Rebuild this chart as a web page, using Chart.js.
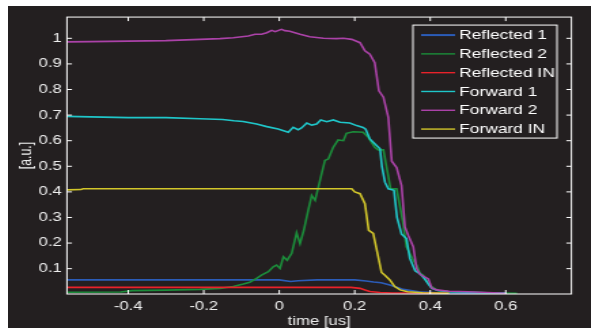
<!DOCTYPE html>
<html>
<head>
<meta charset="utf-8">
<script src="https://cdn.jsdelivr.net/npm/chart.js@4.4.0/dist/chart.umd.min.js"></script>
<style>
  html, body { margin: 0; padding: 0; background: #fff; }
  body { width: 591px; height: 328px; overflow: hidden; position: relative; }
  #plot { position: absolute; left: 8px; top: 6px; background: #231f20; }
</style>
</head>
<body>
<!-- the scope picture is stretched sideways, so the canvas is too (inline size so Chart.js keeps it) -->
<canvas id="plot" width="429" height="322" style="width:583px;height:322px"></canvas>
<script>
// [time (us), amplitude (a.u.)]
const reflected1 = [[-0.562, 0.056], [-0.2, 0.056], [0.0, 0.056], [0.03, 0.05], [0.05, 0.053], [0.1, 0.056],
  [0.2, 0.056], [0.23, 0.052], [0.25, 0.048], [0.27, 0.045], [0.293, 0.036], [0.31, 0.028], [0.328, 0.019],
  [0.37, 0.01], [0.42, 0.006], [0.5, 0.004], [0.6, 0.003]];

const reflected2 = [[-0.562, 0.008], [-0.42, 0.009], [-0.39, 0.014], [-0.3, 0.016], [-0.21, 0.019], [-0.157, 0.023],
  [-0.122, 0.03], [-0.095, 0.04], [-0.078, 0.047], [-0.06, 0.062], [-0.047, 0.075], [-0.029, 0.088],
  [-0.016, 0.107], [-0.007, 0.114], [0.002, 0.101], [0.011, 0.146], [0.021, 0.133], [0.033, 0.16],
  [0.046, 0.24], [0.055, 0.198], [0.065, 0.25], [0.077, 0.33], [0.086, 0.386], [0.095, 0.367],
  [0.108, 0.445], [0.121, 0.523], [0.13, 0.529], [0.143, 0.574], [0.156, 0.603], [0.17, 0.6],
  [0.178, 0.629], [0.196, 0.635], [0.222, 0.633], [0.236, 0.613], [0.253, 0.574], [0.262, 0.564],
  [0.276, 0.564], [0.286, 0.484], [0.295, 0.412], [0.311, 0.412], [0.328, 0.28], [0.337, 0.185],
  [0.355, 0.133], [0.364, 0.114], [0.373, 0.082], [0.381, 0.075], [0.4, 0.033], [0.42, 0.015],
  [0.45, 0.01], [0.5, 0.008], [0.55, 0.006], [0.63, 0.004]];

const reflectedIn = [[-0.562, 0.027], [0.19, 0.027], [0.214, 0.023], [0.227, 0.017], [0.24, 0.011],
  [0.267, 0.007], [0.3, 0.005], [0.35, 0.005], [0.45, 0.004]];

const forward1 = [[-0.562, 0.695], [-0.5, 0.693], [-0.4, 0.69], [-0.3, 0.69], [-0.21, 0.686], [-0.15, 0.683],
  [-0.12, 0.678], [-0.096, 0.675], [-0.06, 0.665], [-0.033, 0.655], [-0.003, 0.646], [0.024, 0.633],
  [0.037, 0.652], [0.05, 0.643], [0.059, 0.65], [0.073, 0.669], [0.086, 0.661], [0.099, 0.665],
  [0.11, 0.681], [0.126, 0.674], [0.143, 0.681], [0.161, 0.672], [0.187, 0.669], [0.205, 0.659],
  [0.222, 0.652], [0.229, 0.645], [0.24, 0.607], [0.253, 0.588], [0.267, 0.568], [0.272, 0.5],
  [0.28, 0.438], [0.289, 0.412], [0.304, 0.406], [0.312, 0.3], [0.324, 0.235], [0.337, 0.218],
  [0.346, 0.14], [0.36, 0.092], [0.373, 0.08], [0.385, 0.06], [0.395, 0.04], [0.404, 0.023],
  [0.42, 0.015], [0.45, 0.01], [0.5, 0.008], [0.55, 0.006], [0.6, 0.005]];

const forward2 = [[-0.562, 0.986], [-0.5, 0.987], [-0.4, 0.989], [-0.3, 0.991], [-0.21, 0.996], [-0.157, 0.999],
  [-0.122, 1.002], [-0.082, 1.009], [-0.064, 1.016], [-0.047, 1.016], [-0.033, 1.022], [-0.02, 1.031],
  [-0.011, 1.026], [0.006, 1.035], [0.015, 1.03], [0.028, 1.028], [0.055, 1.016], [0.081, 1.006],
  [0.117, 1.0], [0.152, 0.999], [0.17, 1.0], [0.192, 0.996], [0.214, 0.983], [0.227, 0.951],
  [0.24, 0.938], [0.253, 0.905], [0.264, 0.795], [0.276, 0.77], [0.289, 0.69], [0.298, 0.52],
  [0.311, 0.495], [0.324, 0.425], [0.333, 0.263], [0.342, 0.23], [0.355, 0.186], [0.364, 0.1],
  [0.373, 0.078], [0.395, 0.06], [0.404, 0.025], [0.417, 0.017], [0.45, 0.012], [0.5, 0.01],
  [0.55, 0.007], [0.6, 0.004]];

const forwardIn = [[-0.562, 0.408], [-0.525, 0.409], [-0.52, 0.412], [0.192, 0.412], [0.2, 0.4],
  [0.214, 0.393], [0.227, 0.354], [0.237, 0.25], [0.249, 0.238], [0.258, 0.175], [0.271, 0.085],
  [0.28, 0.074], [0.293, 0.056], [0.306, 0.03], [0.32, 0.017], [0.34, 0.01], [0.38, 0.006], [0.45, 0.004]];

const series = [reflected1, reflected2, reflectedIn, forward1, forward2, forwardIn];
const labels = ['Reflected 1', 'Reflected 2', 'Reflected IN', 'Forward 1', 'Forward 2', 'Forward IN'];
const colors = ['#2b5cb8', '#1b8d3a', '#e8222a', '#1fc6c9', '#ab42a8', '#d2c62a'];

const xTicks = [-0.4, -0.2, 0, 0.2, 0.4, 0.6];
const yTicks = [0.1, 0.2, 0.3, 0.4, 0.5, 0.6, 0.7, 0.8, 0.9, 1];

const textColor = '#eeeeee';
const fontFamily = '"Liberation Sans", Arial, sans-serif';

// box round the plot with inward ticks on all four sides
const framePlugin = {
    id: 'frame',
    afterDatasetsDraw(chart) {
        const ctx = chart.ctx;
        const a = chart.chartArea;
        const xs = chart.scales.x, ys = chart.scales.y;
        ctx.save();
        ctx.strokeStyle = '#ffffff';
        ctx.lineWidth = 1;
        ctx.strokeRect(a.left, a.top, a.right - a.left, a.bottom - a.top);
        ctx.beginPath();
        xTicks.forEach(function (v) {
            const px = xs.getPixelForValue(v);
            ctx.moveTo(px, a.bottom); ctx.lineTo(px, a.bottom - 4);
            ctx.moveTo(px, a.top); ctx.lineTo(px, a.top + 4);
        });
        yTicks.forEach(function (v) {
            const py = ys.getPixelForValue(v);
            ctx.moveTo(a.left, py); ctx.lineTo(a.left + 3.7, py);
            ctx.moveTo(a.right, py); ctx.lineTo(a.right - 3.7, py);
        });
        ctx.stroke();
        ctx.restore();
    }
};

// boxed legend in the top right corner, matlab style
const boxLegend = {
    id: 'boxLegend',
    afterDraw(chart) {
        const ctx = chart.ctx;
        const a = chart.chartArea;
        const w = 106, h = 113;
        const left = a.right - 10.6 - w, top = a.top + 8;
        ctx.save();
        ctx.fillStyle = '#231f20';
        ctx.fillRect(left, top, w, h);
        ctx.strokeStyle = '#ffffff';
        ctx.lineWidth = 1;
        ctx.strokeRect(left, top, w, h);
        ctx.font = '12.8px ' + fontFamily;
        ctx.textBaseline = 'middle';
        ctx.fillStyle = '#ffffff';
        chart.data.datasets.forEach(function (ds, i) {
            const y = top + 10 + i * 18.8;
            ctx.strokeStyle = ds.borderColor;
            ctx.lineWidth = i === 0 ? 2 : 1.4;
            ctx.beginPath();
            ctx.moveTo(left + 6, y);
            ctx.lineTo(left + 31, y);
            ctx.stroke();
            ctx.fillText(ds.label, left + 34, y + 0.5);
        });
        ctx.restore();
    }
};

new Chart(document.getElementById('plot'), {
    type: 'line',
    data: {
        datasets: series.map(function (d, i) {
            return {
                label: labels[i],
                data: d,
                borderColor: colors[i],
                borderWidth: 1.6,
                pointRadius: 0,
                fill: false,
                order: series.length - i
            };
        })
    },
    options: {
        responsive: false,
        animation: false,
        devicePixelRatio: 1,
        layout: { padding: { top: 10, right: 14.4, left: 0, bottom: 0 } },
        plugins: { legend: { display: false }, tooltip: { enabled: false } },
        scales: {
            x: {
                type: 'linear',
                min: -0.5624,
                max: 0.774,
                grid: { display: false, drawTicks: false },
                border: { display: false },
                afterBuildTicks: function (s) { s.ticks = xTicks.map(function (v) { return { value: v }; }); },
                afterFit: function (s) { s.height = 34; },
                ticks: {
                    color: textColor, padding: 5, maxRotation: 0, autoSkip: false,
                    font: { family: fontFamily, size: 12.3 },
                    callback: function (v) { return String(v); }
                },
                title: {
                    display: true, text: 'time [us]', color: textColor,
                    font: { family: fontFamily, size: 12.3, lineHeight: 1 },
                    padding: { top: 0, bottom: 0 }
                }
            },
            y: {
                min: 0.001,
                max: 1.083,
                grid: { display: false, drawTicks: false },
                border: { display: false },
                afterBuildTicks: function (s) { s.ticks = yTicks.map(function (v) { return { value: v }; }); },
                afterFit: function (s) { s.width = 43.4; },
                ticks: {
                    color: textColor, padding: 3.7, autoSkip: false,
                    font: { family: fontFamily, size: 12.3 },
                    callback: function (v) { return String(v); }
                },
                title: {
                    display: true, text: '[a.u.]', color: textColor,
                    font: { family: fontFamily, size: 12.3, lineHeight: 1 },
                    padding: { top: 7, bottom: 0 }
                }
            }
        }
    },
    plugins: [framePlugin, boxLegend]
});
</script>
</body>
</html>
